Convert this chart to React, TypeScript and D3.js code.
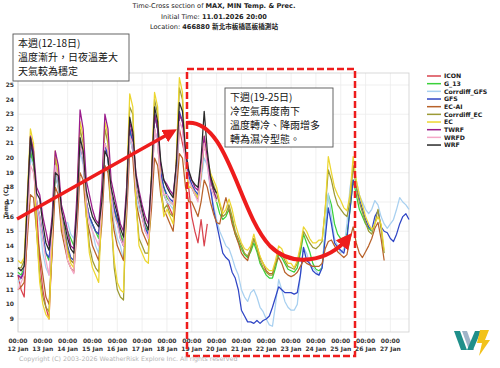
import React from "react";
import * as d3 from "d3";

const W = 500;
const H = 368;
const STEP = 3; // hours between samples, first sample = 12 Jan 00:00

const DAYS = ["12 Jan", "13 Jan", "14 Jan", "15 Jan", "16 Jan", "17 Jan", "18 Jan", "19 Jan",
  "20 Jan", "21 Jan", "22 Jan", "23 Jan", "24 Jan", "25 Jan", "26 Jan", "27 Jan"];
const Y_TICKS = d3.range(9, 26);

// 3-hourly temperatures (00,03,...,21) per day
const ICON = [
  12.0, 11.0, 10.5, 15.0, 20.5, 19.5, 16.5, 13.0,
  11.0, 9.8, 9.0, 14.0, 19.0, 18.0, 15.5, 14.5,
  13.5, 13.0, 12.8, 16.0, 21.0, 20.0, 17.0, 16.0,
  15.5, 15.0, 14.8, 17.0, 21.0, 20.0, 17.5, 16.5,
  15.8, 14.8, 14.0, 17.0, 21.5, 20.5, 18.0, 17.0,
  16.0, 15.0, 14.6, 17.5, 22.0, 21.0, 18.5, 17.5,
  17.0, 16.5, 16.0, 18.5, 22.0, 21.0, 20.0, 18.0,
  16.0, 15.0, 14.2, 15.8, 14.0, 15.5,
];
const G_13 = [
  12.2, 12.0, 12.5, 16.0, 20.5, 19.5, 17.0, 16.0,
  14.5, 13.5, 13.0, 15.0, 19.0, 18.0, 16.0, 15.5,
  15.0, 14.5, 14.0, 16.5, 21.0, 20.0, 17.0, 16.0,
  15.5, 15.0, 14.5, 17.0, 21.0, 20.0, 17.5, 16.5,
  15.5, 14.8, 14.3, 17.0, 22.0, 21.0, 18.0, 17.0,
  16.0, 15.3, 15.0, 18.0, 23.0, 22.0, 19.0, 18.0,
  17.3, 17.0, 16.8, 19.0, 23.0, 22.5, 20.0, 18.8,
  18.0, 17.6, 17.3, 18.8, 21.0, 20.0, 18.5, 17.8,
  17.0, 16.2, 15.8, 16.0, 16.5, 15.8, 14.8, 14.3,
  13.8, 13.4, 13.2, 13.6, 14.2, 13.6, 12.8, 12.4,
  12.0, 11.8, 11.8, 12.5, 13.4, 13.2, 12.8, 12.4,
  12.3, 12.2, 12.5, 13.5, 14.8, 14.2, 13.6, 12.8,
  12.4, 12.3, 12.5, 15.0, 17.5, 16.8, 15.5, 14.8,
  14.5, 14.5, 14.8, 16.5, 18.5, 17.5, 16.5, 16.0,
  15.5, 15.2, 15.0,
];
const CORRDIFF_GFS = [
  11.5, 11.8, 12.0, 15.5, 20.0, 19.5, 17.0, 15.5,
  13.5, 12.5, 12.0, 15.0, 19.0, 18.0, 16.0, 15.5,
  15.6, 14.8, 14.5, 16.5, 20.5, 19.5, 17.0, 16.0,
  15.0, 14.0, 13.5, 16.5, 21.0, 20.0, 17.0, 15.5,
  14.5, 14.0, 13.0, 16.5, 21.5, 20.5, 17.5, 16.5,
  16.0, 15.2, 14.5, 17.5, 22.0, 21.0, 18.5, 17.5,
  17.0, 16.8, 16.5, 18.5, 22.5, 22.0, 19.5, 18.5,
  18.0, 17.5, 17.2, 18.5, 20.0, 19.5, 17.8, 16.8,
  15.8, 15.0, 14.5, 14.0, 13.8, 13.2, 12.5, 12.0,
  11.0, 10.5, 10.2, 10.8, 11.0, 10.5, 9.8, 9.5,
  9.0, 8.6, 8.5, 10.0, 11.7, 11.0, 10.2, 9.8,
  9.6, 9.6, 10.0, 12.0, 13.9, 13.5, 12.8, 12.5,
  12.3, 12.0, 12.5, 15.0, 17.6, 16.0, 14.5, 14.0,
  13.5, 13.8, 15.5, 18.0, 19.2, 18.5, 17.5, 17.0,
  16.5, 16.2, 16.5, 17.1, 16.8, 16.0, 15.5, 15.2,
  15.5, 15.8, 16.5, 17.3, 17.0, 16.8, 16.5,
];
const GFS = [
  12.0, 11.8, 12.3, 16.5, 21.0, 20.0, 17.0, 16.0,
  14.8, 13.5, 13.2, 15.0, 19.5, 18.5, 16.0, 15.0,
  14.0, 13.2, 13.0, 16.5, 21.0, 20.0, 17.0, 16.0,
  15.5, 15.0, 14.8, 17.0, 21.0, 20.0, 17.5, 16.5,
  15.8, 14.5, 14.0, 17.0, 22.0, 21.0, 18.0, 17.0,
  16.0, 15.2, 14.8, 18.0, 23.0, 22.0, 19.0, 18.0,
  17.5, 17.2, 17.0, 19.0, 23.2, 22.5, 20.0, 18.8,
  18.2, 17.8, 17.5, 19.0, 21.0, 20.0, 18.0, 16.5,
  15.5, 14.5, 13.5, 13.2, 13.0, 12.2, 11.8, 11.0,
  9.6, 9.2, 8.8, 8.8, 8.7, 8.9, 8.7, 8.9,
  9.0, 9.2, 9.8, 10.5, 11.2, 11.0, 10.8, 10.8,
  10.8, 10.7, 10.8, 12.0, 13.9, 13.0, 12.8, 12.3,
  12.1, 12.0, 12.5, 14.5, 16.6, 15.5, 14.2, 13.9,
  13.7, 13.5, 14.5, 16.5, 18.5, 18.0, 17.2, 16.5,
  15.8, 15.3, 15.1, 16.0, 16.4, 15.3, 15.0, 14.9,
  14.5, 14.3, 14.8, 15.5, 16.0, 16.2, 15.8,
];
const EC_AI = [
  11.0, 11.2, 11.5, 14.5, 17.5, 17.3, 15.0, 13.5,
  12.0, 10.5, 10.0, 13.5, 18.0, 17.5, 15.0, 14.0,
  13.0, 12.5, 12.2, 15.0, 19.0, 18.5, 16.0, 15.0,
  14.0, 13.5, 13.0, 15.5, 19.5, 19.0, 16.5, 15.0,
  14.0, 13.5, 13.0, 16.0, 20.5, 20.0, 17.0, 16.0,
  15.0, 14.5, 14.0, 16.5, 20.0, 19.5, 17.5, 16.5,
  16.0, 15.5, 15.0, 17.5, 20.3, 20.0, 18.0, 17.0,
  17.0, 16.5, 16.0, 17.0, 18.5, 18.0, 17.0, 16.2,
  15.6, 15.5, 16.5, 17.3, 16.5, 15.5, 14.8, 14.2,
  13.5, 13.2, 13.0, 13.8, 14.5, 14.0, 13.2, 12.8,
  12.3, 12.1, 12.1, 12.8, 13.2, 12.8, 12.2, 12.0,
  11.9, 12.0, 12.2, 12.6, 13.0, 12.8, 12.7, 12.6,
  12.6, 12.6, 12.8, 13.8, 14.3, 14.4, 14.0, 13.6,
  13.4, 13.2, 13.4, 14.5, 15.3, 14.2, 13.5, 13.2,
  13.6, 14.0, 14.5, 15.2, 15.6, 14.5, 13.0,
];
const CORRDIFF_EC = [
  12.5, 12.5, 13.0, 17.0, 21.5, 20.5, 15.0, 12.0,
  10.5, 9.8, 9.5, 14.5, 20.0, 19.0, 16.0, 15.0,
  13.8, 13.0, 12.8, 17.0, 22.0, 21.0, 16.5, 14.0,
  13.0, 12.5, 12.2, 17.0, 22.0, 21.0, 16.0, 12.5,
  11.0, 10.5, 10.3, 17.5, 23.5, 23.0, 17.0, 14.5,
  14.0, 13.5, 13.5, 18.5, 24.0, 23.0, 18.0, 16.5,
  16.8, 16.2, 16.0, 19.5, 24.8, 24.0, 19.5, 18.0,
  18.0, 17.5, 17.2, 18.8, 21.0, 20.0, 18.8, 18.2,
  17.6, 16.8, 16.0, 16.2, 16.8, 16.0, 15.0, 14.5,
  14.0, 13.5, 13.3, 13.8, 14.5, 13.8, 13.0, 12.5,
  12.2, 12.0, 12.0, 12.8, 13.6, 13.5, 13.0, 12.6,
  12.5, 12.4, 12.8, 13.8, 15.0, 14.6, 14.2, 13.9,
  13.8, 14.0, 14.3, 16.5, 19.2, 18.5, 17.5, 16.8,
  16.5, 16.2, 16.0, 17.0, 19.5, 18.0, 17.0, 16.3,
  15.6, 15.0, 14.8, 15.5, 16.5, 15.2, 13.5,
];
const EC = [
  13.0, 12.8, 13.2, 17.5, 22.0, 21.0, 15.0, 11.5,
  10.0, 9.3, 9.0, 14.5, 20.5, 19.0, 15.5, 14.5,
  13.5, 12.8, 12.5, 17.0, 22.5, 21.5, 16.0, 13.5,
  12.5, 12.0, 11.5, 17.0, 22.5, 21.5, 16.0, 13.0,
  11.5, 11.0, 10.8, 18.0, 24.4, 23.5, 17.0, 14.0,
  13.5, 13.0, 12.8, 19.0, 24.5, 23.5, 18.0, 16.0,
  16.5, 16.0, 15.5, 20.0, 25.5, 24.5, 19.5, 18.0,
  18.0, 17.6, 17.3, 19.0, 21.5, 20.0, 19.0, 18.5,
  18.0, 17.0, 16.2, 16.5, 17.2, 16.5, 15.5, 14.8,
  14.2, 13.8, 13.7, 14.0, 14.8, 14.0, 13.3, 12.8,
  12.5, 12.3, 12.3, 13.0, 14.0, 13.8, 13.2, 12.8,
  12.8, 12.5, 13.0, 14.0, 15.3, 15.0, 14.5, 14.2,
  14.2, 14.4, 14.4, 16.5, 20.1, 19.0, 18.0, 17.5,
  17.1, 16.6, 16.4, 17.5, 20.1, 18.5, 17.5, 16.8,
  16.0, 15.5, 15.1, 15.5, 16.0, 15.5, 13.7,
];
const TWRF = [
  12.0, 11.8, 12.2, 16.5, 21.5, 20.5, 18.0, 17.5,
  16.0, 15.0, 14.0, 16.0, 20.5, 19.5, 16.8, 16.0,
  15.0, 14.0, 13.8, 17.5, 23.3, 22.0, 18.5, 17.5,
  16.5, 15.8, 15.5, 18.0, 23.0, 22.0, 18.5, 17.5,
  16.5, 15.5, 15.0, 18.0, 22.5, 21.5, 19.0, 17.8,
  16.8, 16.0, 15.5, 18.5, 23.0, 22.0, 19.5, 18.5,
  18.2, 17.8, 17.5, 19.5, 23.0, 22.5, 20.0, 19.0,
  18.5, 18.0, 17.8, 19.5, 21.5, 20.0, 18.5, 17.8,
  17.2,
];
const WRFD = [
  11.0, 11.5, 12.0, 15.5, 19.5, 19.0, 17.0, 16.0,
  14.5, 13.0, 12.0, 15.0, 19.5, 18.5, 16.0, 14.5,
  13.0, 12.5, 12.1, 16.0, 21.0, 20.0, 17.0, 15.5,
  15.0, 14.5, 14.0, 16.5, 21.0, 20.5, 17.5, 16.0,
  15.5, 14.5, 14.0, 17.0, 21.5, 21.0, 18.0, 17.0,
  16.0, 15.0, 14.5, 17.5, 22.0, 21.0, 18.5, 17.5,
  17.5, 17.0, 16.8, 19.0, 22.5, 22.0, 19.5, 18.5,
  18.0, 17.5, 17.0, 19.0, 21.0, 19.5, 18.0, 17.5,
  17.0,
];
const WRF = [
  12.5, 12.3, 12.6, 17.0, 21.4, 20.0, 17.6, 17.2,
  15.5, 14.2, 13.7, 15.5, 19.0, 18.8, 16.5, 15.5,
  14.5, 13.8, 13.5, 16.5, 21.4, 20.5, 17.8, 16.8,
  16.0, 15.6, 15.3, 17.0, 20.5, 20.0, 18.0, 17.0,
  16.2, 15.2, 14.6, 17.5, 22.8, 21.8, 18.8, 17.5,
  16.5, 15.6, 15.1, 18.5, 23.5, 22.5, 19.8, 18.5,
  18.0, 17.6, 17.3, 19.5, 23.8, 23.2, 20.5, 19.2,
  18.5, 18.2, 18.0, 20.0, 23.2, 20.5, 18.8, 18.0,
  17.6,
];

const SERIES = [
  { name: "ICON", color: "#d9434e", values: ICON },
  { name: "G_13", color: "#3ad13a", values: G_13 },
  { name: "Corrdiff_GFS", color: "#a8d0f0", values: CORRDIFF_GFS },
  { name: "GFS", color: "#2f45c5", values: GFS },
  { name: "EC-AI", color: "#b8622a", values: EC_AI },
  { name: "Corrdiff_EC", color: "#9c9a35", values: CORRDIFF_EC },
  { name: "EC", color: "#ecd630", values: EC },
  { name: "TWRF", color: "#9a1c8c", values: TWRF },
  { name: "WRFD", color: "#f5a8c8", values: WRFD },
  { name: "WRF", color: "#2a2a2a", values: WRF },
];

const NOTE_THIS_WEEK = ["本週(12-18日)", "溫度漸升，日夜溫差大", "天氣較為穩定"];
const NOTE_NEXT_WEEK = ["下週(19-25日)", "冷空氣再度南下", "溫度轉冷、降雨增多", "轉為濕冷型態。"];

const CJK = "'Noto Sans CJK TC', 'Noto Sans', sans-serif";
const SANS = "'DejaVu Sans', sans-serif";

export default function App() {
  const left = 18, right = 409, top = 73, bottom = 332;
  const x = d3.scaleLinear().domain([0, 378]).range([left, right]);
  const y = d3.scaleLinear().domain([8.11, 25.82]).range([bottom, top]);
  const line = d3.line<number>().x((_, i) => x(i * STEP)).y((d) => y(d));

  const red = "#ee1c1c";

  return (
    <svg width={W} height={H} style={{ position: "absolute", left: 0, top: 0, background: "#fff" }}>
      <defs>
        <marker id="head" viewBox="0 0 10 10" refX="6" refY="5" markerWidth="4" markerHeight="4" orient="auto">
          <path d="M0,0 L10,5 L0,10 z" fill={red} />
        </marker>
      </defs>

      {/* title */}
      <g fontFamily={SANS} fontSize={6.6} fill="#222" textAnchor="middle">
        <text x={214} y={8}>
          Time-Cross section of <tspan fontWeight="bold">MAX, MIN Temp. &amp; Prec.</tspan>
        </text>
        <text x={214} y={18.5}>
          Initial Time: <tspan fontWeight="bold">11.01.2026 20:00</tspan>
        </text>
        <text x={214} y={29}>
          Location: <tspan fontWeight="bold">466880 </tspan>
          <tspan fontWeight="bold" fontFamily={CJK}>新北市板橋區板橋測站</tspan>
        </text>
      </g>

      {/* grid */}
      <g stroke="#ececec" strokeWidth={0.8}>
        {DAYS.map((_, k) => (
          <line key={k} x1={x(k * 24)} x2={x(k * 24)} y1={top} y2={bottom} />
        ))}
        {Y_TICKS.filter((t) => t % 2 === 1).map((t) => (
          <line key={t} x1={left} x2={right} y1={y(t)} y2={y(t)} />
        ))}
      </g>
      <rect x={left} y={top} width={right - left} height={bottom - top} fill="none" stroke="#cfcfcf" strokeWidth={0.8} />

      {/* axes labels */}
      <g fontFamily={SANS} fontSize={6} fontWeight="bold" fill="#333">
        {Y_TICKS.map((t) => (
          <text key={t} x={14} y={y(t) + 2} textAnchor="end">{t}</text>
        ))}
        {DAYS.map((d, k) => (
          <g key={d} textAnchor="middle">
            <text x={x(k * 24)} y={343}>00:00</text>
            <text x={x(k * 24)} y={350.5}>{d}</text>
          </g>
        ))}
        <text transform={`translate(7.5,${(top + bottom) / 2}) rotate(-90)`} textAnchor="middle">Temp. (C)</text>
      </g>

      {/* series */}
      <g fill="none" strokeWidth={1.25} strokeLinejoin="round">
        {SERIES.map((s) => (
          <path key={s.name} d={line(s.values) || ""} stroke={s.color} />
        ))}
      </g>

      {/* legend */}
      <g fontFamily={SANS} fontSize={6.2} fontWeight="bold" fill="#222">
        {SERIES.map((s, i) => (
          <g key={s.name} transform={`translate(427,${76 + i * 7.67})`}>
            <line x1={0} x2={14} y1={0} y2={0} stroke={s.color} strokeWidth={1.5} />
            <text x={17} y={2.2}>{s.name}</text>
          </g>
        ))}
      </g>

      {/* dashed focus box */}
      <rect x={187} y={69} width={168} height={287} fill="none" stroke={red} strokeWidth={2.5} strokeDasharray="7,3" />

      {/* arrows */}
      <line x1={17} y1={219} x2={172} y2={132} stroke={red} strokeWidth={3.5} markerEnd="url(#head)" />
      <path d="M186,123 C228,118 238,212 270,246 C292,268 328,262 348,238" fill="none" stroke={red} strokeWidth={4} markerEnd="url(#head)" />

      {/* notes */}
      <g fontFamily={CJK} fontSize={10} fill="#111">
        <rect x={13} y={34} width={116} height={47} fill="#fff" stroke="#555" strokeWidth={0.9} />
        {NOTE_THIS_WEEK.map((t, i) => (
          <text key={t} x={18} y={46.5 + i * 14}>{t}</text>
        ))}
        <rect x={225} y={88} width={108} height={59} fill="#fff" stroke="#555" strokeWidth={0.9} />
        {NOTE_NEXT_WEEK.map((t, i) => (
          <text key={t} x={230} y={100.5 + i * 14}>{t}</text>
        ))}
      </g>

      <text x={19} y={361} fontFamily={SANS} fontSize={6.3} fill="#b4b4b4">
        Copyright (C) 2003-2026 WeatherRisk Explore Inc. All rights reserved
      </text>

      {/* logo */}
      <g>
        <polygon points="454,331 460,331 467,350 461,350" fill="#1f8f8a" />
        <polygon points="462,331 467,331 474,350 469,350" fill="#9fb4c8" />
        <polygon points="467,350 473,350 481,331 475,331" fill="#1f8f8a" />
        <polygon points="480,330 489,330 485,340 490,340 479,356 482,343 477,343" fill="#f2c21b" />
      </g>
    </svg>
  );
}
